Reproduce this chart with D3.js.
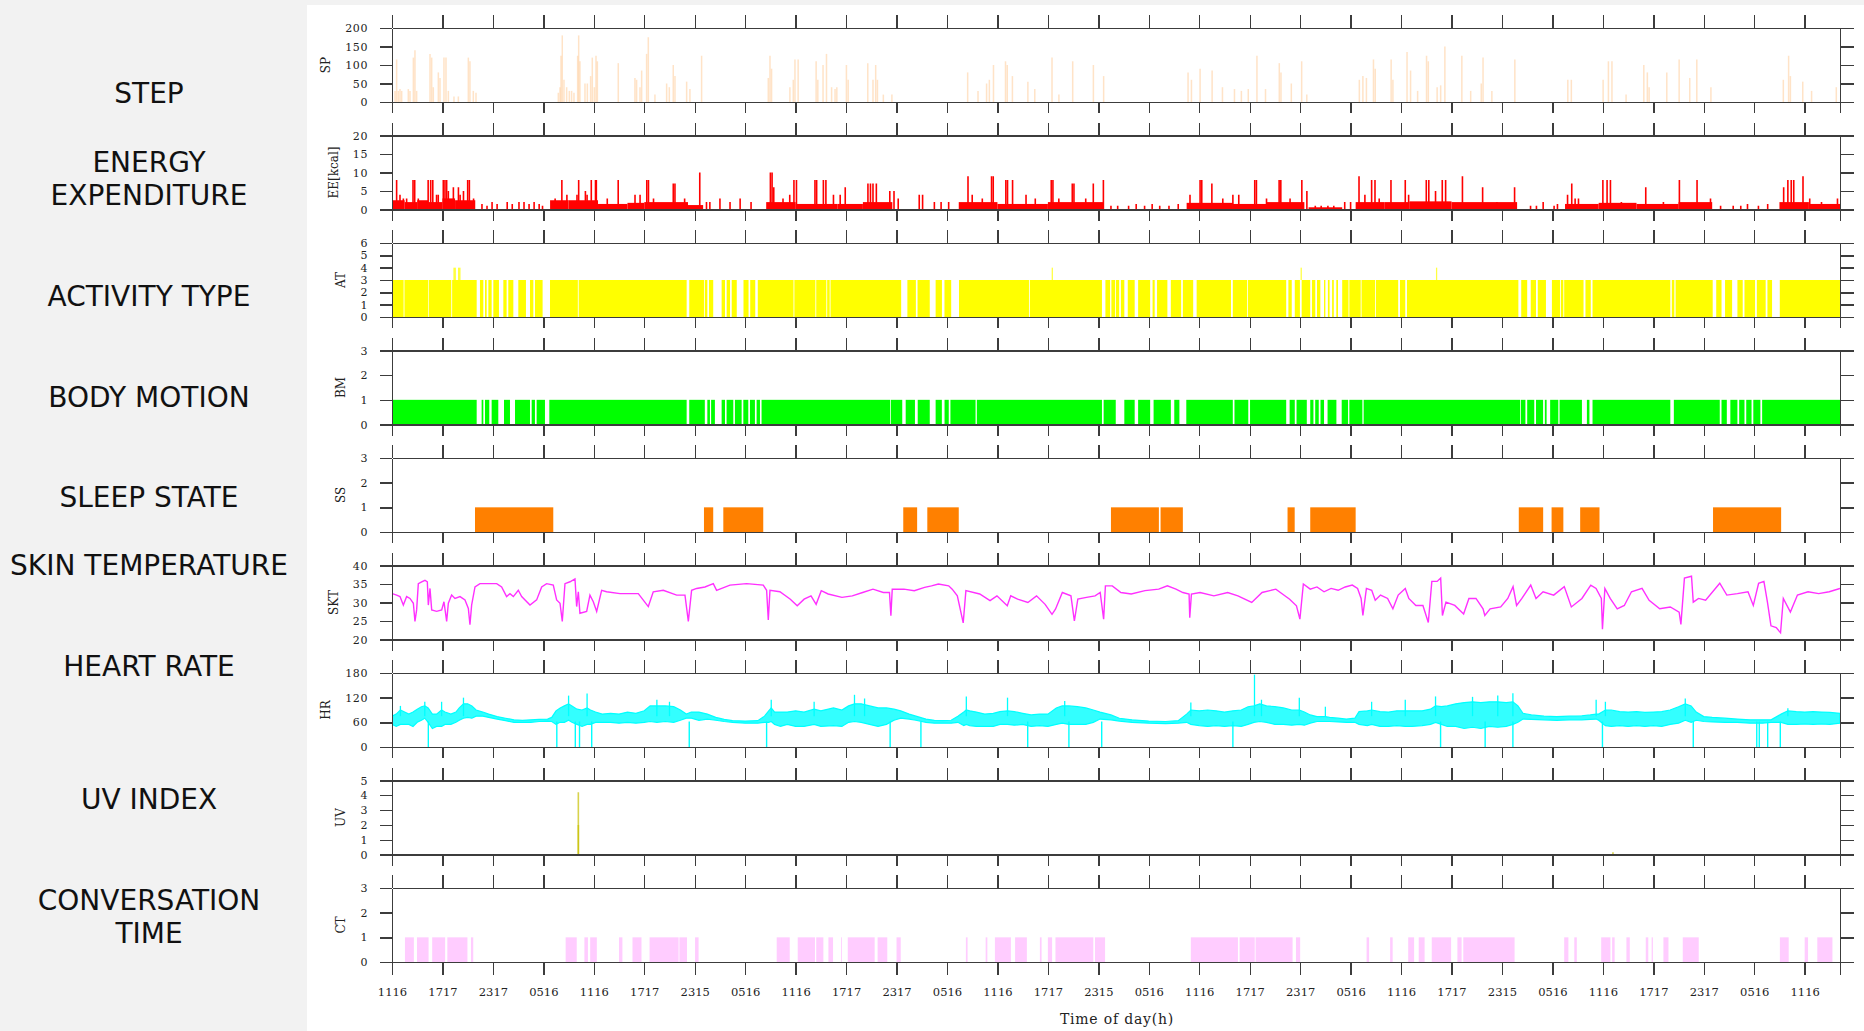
<!DOCTYPE html>
<html>
<head>
<meta charset="utf-8">
<script src="https://cdn.jsdelivr.net/npm/d3@7"></script>
<style>
  html, body { margin: 0; padding: 0; background: #f2f2f2; }
  svg { display: block; }
  .axis path, .axis line { stroke: #3c3c3c; stroke-width: 1.4; shape-rendering: crispEdges; }
  .axis text { font-family: "DejaVu Serif", serif; font-size: 11px; fill: #222; letter-spacing: 0.6px; }
  .xlabels text { font-size: 11.5px; letter-spacing: 0px; }
  .ylab { font-family: "DejaVu Serif", serif; font-size: 12px; fill: #222; }
  .rowtitle { font-family: "DejaVu Sans", Verdana, sans-serif; font-size: 28px; fill: #111; }
</style>
</head>
<body>
<svg id="chart" width="1864" height="1031"></svg>
<script>
// ---------------------------------------------------------------
// Multi-day wearable sensor log. Time axis in hours from 11:16 day 1.
// ---------------------------------------------------------------

// x-axis tick labels (one every 6 hours)
const timeTickLabels = ["1116","1717","2317","0516","1116","1717","2315","0516","1116","1717",
  "2317","0516","1116","1717","2315","0516","1116","1717","2317","0516","1116","1717","2315",
  "0516","1116","1717","2317","0516","1116"];
const timeEnd = 172.2;

// row captions on the left
const rowTitles = [["STEP"], ["ENERGY", "EXPENDITURE"], ["ACTIVITY TYPE"], ["BODY MOTION"],
  ["SLEEP STATE"], ["SKIN TEMPERATURE"], ["HEART RATE"], ["UV INDEX"], ["CONVERSATION", "TIME"]];

// y tick values per row
const spTicks = [0, 50, 100, 150, 200];
const eeTicks = [0, 5, 10, 15, 20];
const atTicks = [0, 1, 2, 3, 4, 5, 6];
const bmTicks = [0, 1, 2, 3];
const ssTicks = [0, 1, 2, 3];
const sktTicks = [20, 25, 30, 35, 40];
const hrTicks = [0, 60, 120, 180];
const uvTicks = [0, 1, 2, 3, 4, 5];
const ctTicks = [0, 1, 2, 3];

// steps per interval [hour, steps]
const steps = [[0.36,30],[0.55,115],[0.75,30],[0.95,35],[1.15,30],[1.94,35],[2.14,30],[2.54,120],[2.73,140],
  [2.93,30],[4.52,130],[4.72,120],[4.91,40],[5.51,80],[5.71,65],[6.18,120],[6.42,120],[6.7,30],[7.37,15],
  [7.89,15],[9.08,120],[9.27,110],[9.67,30],[9.99,25],
  [19.78,25],[19.98,40],[20.1,125],[20.25,180],[20.45,60],[20.77,40],[21.09,30],[21.36,30],[21.64,25],
  [22.08,125],[22.2,180],[22.35,110],[22.95,50],[23.23,50],[23.62,70],[23.82,120],[24.06,40],[24.26,125],
  [24.42,110],[26.91,105],[28.89,65],[29.09,60],[29.49,40],[29.69,85],[30.28,130],[30.48,175],[31.27,20],
  [32.66,50],[32.98,40],[33.45,100],[33.65,70],[35.04,55],[35.43,35],[36.82,125],
  [44.75,65],[44.95,125],[45.14,90],[47.32,40],[47.72,60],[47.92,115],[48.3,115],
  [50.44,110],[50.64,60],[51.26,100],[51.67,130],[52.28,40],[52.69,35],[52.9,40],[54.04,100],[54.25,60],
  [56.58,105],[57.2,60],[57.52,100],[57.73,60],[58.43,20],[59.45,20],
  [68.46,80],[69.69,30],[70.71,50],[71.04,60],[71.53,100],[72.96,110],[73.17,100],[73.78,70],[75.62,55],
  [76.44,35],[78.49,120],[79.31,20],[80.95,110],[83.41,100],[84.63,70],
  [94.67,80],[95.07,60],[96.1,90],[97.53,85],[98.76,40],[100.19,35],[101.01,30],[101.83,35],[102.86,125],
  [103.88,35],[105.52,105],[105.72,80],[106.95,50],[108.18,110],[108.79,20],
  [115.04,60],[115.46,70],[115.88,65],[116.72,115],[116.93,90],[118.82,115],[119.03,60],[120.71,135],
  [121.13,85],[121.97,30],[123.03,125],[123.24,110],[124.29,40],[124.71,45],[125.21,150],[127.23,125],
  [128.28,30],[129.54,50],[129.75,120],[130.8,30],[133.53,115],
  [139.83,60],[140.25,60],[144.03,60],[144.66,110],[145.08,110],[146.76,20],[148.87,100],[149.29,80],
  [149.5,40],[151.6,80],[153.07,115],[154.33,65],[155.17,115],[156.85,40],
  [165.46,60],[166.09,125],[166.3,70],[167.77,55],[168.82,30],[171.76,40]];

// energy expenditure: sustained level blocks [from, to, kcal] and peaks [hour, kcal]
const eeLevels = [[0,1.5,2.5],[1.5,3,2],[3,4.3,2.5],[4.3,6,2],[6,7.5,3],[7.5,9.9,2.5],
  [18.8,21,2.5],[21,24.5,2.5],[24.5,28,1.5],[28,30,1.8],[30,35.2,2],[35.2,37,1.2],
  [44.5,48,2],[48,53,1.5],[53,56,1.5],[56,59.5,2],
  [67.4,72,2],[72,78,1.5],[78,84.6,2],
  [94.5,100,1.8],[100,104,1.5],[104,108.5,2],[109,113,0.6],
  [114.6,118,2],[118,121,2],[121,126,2.2],[126,133.8,2],
  [139.5,143.5,1.5],[143.5,148,1.8],[148,153,1.5],[153,157,2],
  [165,168.5,2],[168.5,172.2,1.5]];
const eePeaks = [[0.55,8],[0.95,4],[1.35,3],[1.74,3],[2.5,8],[2.7,8],[3.13,3],[4.3,8],[4.6,8],[4.85,8],
  [5.3,4],[5.5,4],[6.1,8],[6.3,8],[6.5,8],[6.7,5],[7.3,6],[7.9,6],[8.1,4],[8.5,5],[9.0,8],[9.2,8],[9.7,3],
  [10.7,1.5],[11.3,1],[11.9,2],[12.5,1.5],[13.7,2],[14.3,1.5],[15.1,2],[15.7,2],[16.3,1.5],[16.9,2],
  [17.5,1.5],[17.9,1],
  [19.4,3],[20.2,8],[20.8,4],[22.0,4],[22.2,8],[23.0,5],[23.2,4],[23.7,8],[24.2,8],[24.3,8],[25.6,3],
  [26.9,8],[28.9,4],[29.5,4],[30.3,8],[30.5,8],[31.1,3],[33.45,7],[33.65,7],[34.8,3],[36.6,10],
  [37.4,2],[37.8,2],[39.0,3],[40.2,2],[41.4,3],[42.7,2],
  [45.0,10],[45.2,10],[45.4,6],[46.5,3],[47.3,4],[47.8,8],[48.1,8],
  [50.3,8],[50.5,8],[51.3,8],[51.6,8],[52.5,4],[53.3,4],[53.9,6],[56.6,7],[56.9,7],[57.2,7],[57.6,7],
  [59.2,5],[59.7,5],[60.2,3],[62.7,4],[63.1,4],[64.5,2],[65.3,2],[66.2,2],
  [68.5,9],[69.0,4],[70.2,3],[71.3,9],[71.5,9],[73.0,8],[73.2,8],[73.8,8],[75.4,4],[76.5,3],[78.4,8],
  [78.6,8],[79.3,3],[80.9,7],[81.1,7],[82.5,3],[83.4,7],[84.6,8],
  [85.5,1],[86.3,1],[87.6,1],[88.5,1.5],[89.5,1],[90.4,1.5],[91.3,1],[92.4,1],[93.5,1.5],
  [94.9,4],[96.1,8],[96.3,8],[97.5,7],[98.8,3],[100.0,4],[100.7,4],[102.6,8],[102.8,8],[104.0,3],
  [105.5,8],[105.7,8],[106.8,3],[108.2,8],[108.8,5],
  [109.8,1],[110.5,1],[111.3,1],[112.0,1],[113.3,2],[114.0,2],[115.0,9],[115.7,4],[116.5,8],[116.9,8],
  [117.4,3],[118.8,8],[120.5,8],[120.9,4],[123.0,8],[123.3,8],[124.1,5],[124.9,8],[125.3,8],[127.3,9],
  [129.7,6],[131.4,2],[133.5,6],
  [135.4,1],[136.1,1],[136.9,2],[138.2,1],[138.6,1.5],
  [139.8,4],[140.3,7],[140.7,3],[141.1,3],[144.0,8],[144.5,8],[144.9,8],[146.2,2],[149.1,6],[151.2,2],
  [153.1,8],[155.2,8],[156.8,3],
  [158.0,1],[159.5,1],[160.4,1],[161.2,1.5],[162.5,1],[163.6,1.5],
  [165.5,6],[166.0,8],[166.4,8],[166.7,8],[167.8,9],[168.6,3],[170,2],[171.9,3]];

// activity type: spans at level 3 [from, to], and short spans reaching level 4
const activitySpans = [[0,1.38],[1.48,4.28],[4.36,7.05],[7.15,10.07],
  [10.46,10.86],[11.06,11.26],[11.46,11.85],[12.05,12.72],[13.24,13.63],[13.83,14.43],[15.02,15.93],
  [16.41,16.81],[17.0,17.91],
  [18.79,22.1],[22.2,35.04],
  [35.35,37.1],[37.2,37.5],[37.7,38.2],[39.2,39.6],[39.8,40.2],[40.4,41.0],[41.8,42.4],[42.6,43.2],
  [43.5,47.75],[47.85,50.35],[50.45,51.65],[51.75,52.05],[52.15,60.55],
  [61.29,62.3],[62.5,63.95],[64.65,65.4],[65.7,66.5],
  [67.43,75.75],[75.85,84.43],
  [84.84,85.4],[85.55,86.0],[86.1,86.48],[86.68,87.09],[87.5,88.32],[88.73,90.16],[90.45,90.7],
  [90.98,92.21],[92.62,93.85],[94.05,95.28],[95.69,99.78],[99.99,101.7],[101.8,106.34],
  [106.6,107.0],[107.36,107.97],[108.18,109.2],[109.4,109.8],
  [110.0,110.4],[110.84,111.0],[111.3,111.5],[111.8,112.0],[112.3,112.5],
  [113.0,113.75],[113.85,115.2],[115.3,116.9],[117.0,119.66],
  [119.87,120.5],[120.7,133.95],
  [134.29,135.0],[135.42,136.05],[136.26,137.23],
  [137.94,138.9],[139.0,139.3],[139.4,141.7],
  [141.93,142.56],[142.77,152.02],[152.2,152.5],[152.65,157.06],
  [157.48,158.11],[158.53,159.37],[160.0,160.63],[160.84,162.1],[162.31,163.36],[163.57,164.12],
  [165.04,172.2]];
const activityHigh = [[7.3,7.6],[7.85,8.15],[78.45,78.6],[108.05,108.2],[124.15,124.3]];

// body motion spans at level 1 [from, to]
const motionSpans = [[0,10.07],
  [10.66,10.86],[11.06,11.57],[11.85,12.64],[13.32,14.03],[14.63,16.41],[16.61,17.0],[17.2,18.19],
  [18.71,35.04],
  [35.35,37.2],[37.5,37.81],[37.95,38.4],
  [39.2,39.6],[39.79,40.59],[40.78,41.58],[41.78,42.37],[42.57,43.16],[43.36,43.76],[43.95,59.24],
  [59.33,60.68],[61.09,62.19],[62.52,63.95],[64.65,65.39],[65.71,66.21],[66.41,69.4],[69.55,84.43],
  [84.63,86.07],[87.09,88.32],[88.73,90.16],[90.57,92.62],[93.03,93.64],[94.46,99.99],[100.19,101.83],
  [102.04,106.34],
  [106.75,107.36],[107.57,108.79],[109.2,109.58],[109.79,110.21],[110.42,110.84],[111.26,112.31],
  [112.94,113.7],[113.85,115.4],[115.55,134.16],
  [134.25,134.79],[135.0,135.84],[136.05,136.89],[137.1,137.31],
  [137.73,138.7],[138.85,141.51],
  [142.1,142.4],[142.77,152.02],[152.44,157.9],
  [158.11,158.74],[159.16,160.0],[160.21,160.84],[161.05,161.68],[161.89,162.73],[162.94,172.2]];

// sleep periods [from, to]
const sleepSpans = [[9.87,19.18],[37.1,38.2],[39.4,44.15],[60.8,62.45],[63.66,67.4],[85.5,91.2],
  [91.4,94.05],[106.5,107.35],[109.2,114.6],[134.0,136.9],[137.9,139.3],[141.3,143.6],[157.1,165.2]];

// skin temperature [hour, deg C]
const skinTemp = [[0.04,32.4],[0.55,32.0],[0.95,31.6],[1.35,29.3],[1.74,31.6],[2.14,31.1],[2.54,29.8],
  [2.73,24.9],[2.93,28.0],[3.13,35.1],[3.53,35.6],[3.92,36.0],[4.2,35.6],[4.32,29.3],[4.52,33.8],
  [4.72,28.0],[5.31,27.6],[5.91,28.0],[6.18,30.2],[6.5,24.9],[6.7,29.8],[7.09,32.0],[7.49,31.1],
  [8.09,31.6],[8.68,30.7],[9.08,28.4],[9.27,24.0],[9.47,29.3],[9.87,34.2],[10.46,35.1],[11.26,35.1],
  [12.45,35.1],[13.04,34.2],[13.63,31.6],[14.03,32.4],[14.43,31.6],[15.02,33.3],[15.42,31.6],
  [16.41,29.3],[17.2,30.7],[17.8,34.2],[18.39,35.1],[19.18,34.7],[19.58,30.7],[19.98,29.8],
  [20.25,24.9],[20.57,35.1],[21.17,35.6],[21.76,36.4],[21.96,28.9],[22.16,32.9],[22.35,27.1],
  [23.15,27.6],[23.54,32.0],[23.94,30.2],[24.34,27.6],[24.93,33.3],[25.52,32.9],[27.11,32.4],
  [28.3,32.4],[29.29,32.4],[30.48,28.9],[31.07,32.9],[32.26,33.3],[33.85,32.0],[34.84,32.0],
  [35.24,24.9],[35.63,33.3],[36.23,33.8],[37.22,34.2],[38.21,35.1],[38.6,33.3],[40.19,34.7],
  [42.17,35.1],[44.15,34.7],[44.55,33.3],[44.75,25.3],[44.95,33.3],[46.13,32.9],
  [47.37,30.9],[48.19,29.1],[49.01,30.9],[49.83,31.8],[50.44,29.5],[51.05,33.2],[51.87,32.3],
  [53.51,31.4],[54.74,31.8],[55.97,32.7],[57.2,33.6],[58.43,32.7],[59.16,32.7],[59.33,26.4],
  [59.49,33.6],[60.88,33.6],[62.11,33.2],[63.34,34.1],[64.16,34.5],[64.98,35.0],[66.2,34.5],
  [66.62,33.6],[67.23,31.8],[67.93,24.5],[68.25,33.2],[69.89,32.3],[71.12,30.5],[71.94,31.8],
  [73.17,29.1],[73.58,31.8],[74.4,30.9],[75.62,30.0],[76.65,31.8],[77.67,29.5],[78.49,26.8],
  [78.9,28.2],[79.72,32.7],[80.74,31.8],[81.15,25.0],[81.56,30.9],[82.59,31.4],[83.61,31.8],
  [84.22,32.7],[84.63,25.5],[84.84,34.5],[85.66,34.5],[86.68,32.7],[87.91,32.3],[89.55,33.2],
  [91.18,33.6],[92.21,34.5],[93.23,33.6],[94.05,32.7],[94.79,32.3],[94.87,25.9],[95.07,32.3],
  [96.1,32.7],[97.74,31.8],[99.38,32.7],[100.6,31.8],[102.24,30.0],[103.47,32.7],[105.11,33.6],
  [106.75,30.9],[107.56,29.1],[107.97,25.5],[108.38,35.0],[109.2,33.6],
  [110.0,34.2],[110.84,32.9],[111.68,33.8],[112.52,33.3],[113.36,34.2],[114.2,34.7],[114.83,33.8],
  [115.25,31.1],[115.46,26.5],[115.88,33.8],[116.51,33.3],[116.93,30.6],[117.56,32.0],[118.4,31.1],
  [119.03,28.3],[119.66,32.0],[120.5,33.8],[120.92,31.1],[121.76,29.2],[122.6,29.2],[123.24,24.6],
  [123.66,35.7],[124.29,35.7],[124.71,36.6],[124.92,26.5],[125.34,30.1],[126.39,29.2],[127.44,26.9],
  [128.07,31.1],[128.91,31.1],[129.75,28.3],[129.96,26.5],[130.59,28.3],[131.85,28.8],[132.69,31.1],
  [133.32,34.3],[133.74,29.2],[134.37,31.1],[135.42,34.7],[136.05,31.1],[136.89,32.9],[138.15,32.0],
  [139.41,34.3],[140.25,28.8],[141.51,31.1],[142.56,34.7],[143.19,33.8],[143.82,31.1],[143.95,22.8],
  [144.24,33.8],[144.87,31.1],[145.71,28.3],[146.55,29.2],[147.4,32.9],[148.66,33.8],[149.5,30.6],
  [150.76,28.3],[152.02,28.8],[153.07,27.4],[153.28,24.1],[153.7,36.6],[154.54,37.1],[154.75,30.1],
  [155.38,31.1],[156.22,30.6],[157.9,35.2],[158.74,32.0],[160.0,32.4],[161.26,32.9],[161.89,29.2],
  [162.52,35.2],[163.15,35.7],[163.57,30.1],[163.99,23.7],[164.62,23.2],[165.13,21.8],[165.46,31.1],
  [166.3,27.4],[167.14,32.0],[168.4,32.9],[169.66,32.4],[170.92,32.9],[172.2,33.8]];

// heart rate spread per period [hour, low bpm, high bpm]
const heartRate = [[0,55,75],[0.5,50,80],[1.0,55,90],[1.5,55,85],[2.0,55,80],[2.5,50,85],[3.0,60,92],
  [3.5,65,98],[3.9,70,100],[4.3,60,95],[4.8,45,80],[5.3,50,80],[5.9,50,90],[6.3,55,85],[7.0,55,80],
  [7.6,60,85],[8.0,65,95],[8.5,70,105],[9.0,72,105],[9.5,70,100],[10.0,75,90],[10.8,75,85],
  [11.5,72,80],[12.5,68,74],[13.5,64,70],[14.5,60,66],[15.5,60,65],[16.5,60,66],[17.5,62,67],
  [18.5,63,68],[19.0,62,72],[19.5,55,88],[20.0,60,95],[20.5,60,100],[21.0,65,105],[21.4,60,100],
  [22.0,55,92],[22.6,50,90],[23.2,55,95],[23.6,55,90],[24.2,60,85],[25,60,80],[26,60,82],[27,58,80],
  [28,60,85],[29,58,82],[30,60,88],[30.7,62,100],[31.5,60,100],[32.5,62,100],[33.5,60,98],
  [34.3,65,90],[35.0,70,80],[35.6,70,85],[36.5,65,85],[37.5,68,80],[38.5,65,72],[39.5,62,67],
  [40.5,60,64],[42,58,63],[43.5,58,64],[44.3,60,75],[44.8,60,88],[45.1,62,95],[45.5,55,85],
  [46.2,50,85],[47,55,85],
  [48,50,88],[49,50,85],[50.2,55,92],[51,50,88],[52.5,52,95],[53.5,50,90],[54.3,60,100],[55,62,105],
  [55.8,60,105],[56.8,55,100],[57.8,50,95],[58.8,55,95],[59.7,65,92],[60.5,70,88],[61.5,68,80],
  [62.3,65,75],[63.5,60,68],[64.5,58,65],[65.5,58,64],[66.5,58,65],[67.3,60,75],[68,52,85],
  [68.3,55,90],[68.7,52,88],[69.5,50,85],[70.5,50,80],[71.5,50,82],[72.3,55,86],[73.2,55,88],
  [74,53,86],[75,55,82],[76,50,78],[77,52,80],[78,50,80],[79,55,95],[79.7,58,100],[80.5,55,100],
  [81.5,55,98],[82.5,55,95],[83.4,60,90],[84.2,68,85],[85.5,66,78],[86.5,63,70],[88,60,66],
  [90,58,63],[92,57,62],[93.5,58,64],[94.5,60,80],[95,55,90],[96,52,88],[97,50,90],[98,52,88],
  [99,50,85],[100,52,88],[101,50,90],[101.8,55,98],[102.5,60,100],[103.2,62,105],[104,60,100],
  [105,55,98],[106,55,95],[107,53,90],[107.9,55,90],[108.5,53,85],[109.2,58,78],
  [110,62,74],[111,62,74],[111.5,62,72],[112.5,61,70],[113.5,60,68],[114.5,60,70],[115,55,86],
  [116,52,88],[116.5,55,90],[117.5,50,86],[118.5,50,85],[119.5,52,88],[120.5,50,88],[121.3,50,88],
  [122.5,52,88],[123.5,55,92],[124.1,60,100],[124.8,55,98],[125.5,50,100],[126.5,50,105],
  [127.5,45,108],[128.5,48,110],[129.5,45,108],[130.5,50,110],[131.5,48,110],[132.5,50,108],
  [133.3,55,110],[133.9,60,100],[134.5,68,82],[135.5,67,78],[137,66,75],[138.5,65,74],[140,66,75],
  [141.5,66,76],[142.5,67,78],[143.2,68,80],[143.5,65,80],[144.3,52,90],[145,50,90],[146,52,86],
  [147,50,85],[148,52,86],[149,50,84],[150,52,85],[151,50,86],[152,55,90],[153,58,98],[153.8,65,105],
  [154.5,60,100],[155.1,65,85],[156,62,74],[157,61,72],[158.5,60,70],[160,60,68],[161.5,58,66],
  [162,58,66],[163,58,66],[164,60,66],[165.2,60,80],[166,55,88],[167,55,86],[168,56,85],[169,55,86],
  [170,56,85],[171,55,84],[172.2,58,82]];
// heart rate signal drop-outs (hour) and isolated high readings [hour, bpm]
const hrDropouts = [4.32,19.6,21.8,22.3,23.75,35.35,44.55,59.24,62.9,75.6,80.5,84.4,100.0,124.7,
  130.0,133.3,143.95,154.75,162.3,162.6,163.6,165.1];
const hrSpikes = [[1.0,100],[3.9,110],[5.9,110],[8.5,120],[21.0,125],[23.2,130],[31.5,115],[33.0,110],
  [45.1,115],[50.2,110],[55,127],[56.2,118],[68.3,123],[73.2,120],[80.0,112],[95,108],[102.57,176],
  [103.4,115],[107.9,120],[111,98],[116.5,110],[120.5,115],[124.1,123],[128.5,122],[131.5,125],
  [133.3,131],[143.2,115],[144.3,110],[153.8,118],[166,94]];

// UV index readings [hour, index]
const uvReadings = [[22.16,4.2],[22.16,2.0],[145.2,0.15]];

// conversation detected [from, to]
const talkSpans = [[1.54,2.6],[2.97,4.35],[4.78,6.32],[6.58,8.97],[9.39,9.66],
  [20.65,21.97],[22.88,23.3],[23.57,24.36],[27.0,27.4],[28.6,29.67],[30.63,34.08],[34.18,35.08],
  [36.04,36.46],
  [45.75,47.3],[48.25,50.3],[50.45,51.3],[51.9,52.45],[53.4,53.5],[54.2,57.4],[57.75,58.9],[60.0,60.5],
  [68.25,68.45],[70.6,70.8],[71.7,73.6],[74.1,75.5],[77.05,77.25],[78.0,78.5],[78.9,83.4],[83.6,84.8],
  [95.0,100.6],[100.8,102.6],[102.7,107.1],[107.5,108.0],
  [115.9,116.2],[118.7,119.0],[120.85,121.55],[122.1,122.8],[123.65,125.95],[126.7,127.2],[127.4,133.5],
  [139.4,139.9],[140.6,140.9],[143.8,144.9],[145.1,145.4],[146.8,147.2],[149.1,149.4],[149.8,149.95],
  [151.2,151.8],[153.5,155.4],
  [165.05,166.1],[168.0,168.4],[169.5,171.3]];

// ---------------------------------------------------------------
// Layout and drawing
// ---------------------------------------------------------------
const W = 1864, H = 1031;
const plotL = 392, plotR = 1840;
const firstTop = 28, rowStep = 107.5, rowH = 74;

const svg = d3.select("#chart");
svg.append("rect").attr("width", W).attr("height", H).attr("fill", "#f2f2f2");
svg.append("rect").attr("x", 307).attr("y", 5).attr("width", W - 307).attr("height", H - 5).attr("fill", "#ffffff");

// left captions
const titleY = [93, 162, 296, 397, 497, 565, 666, 799, 900];
rowTitles.forEach((lines, i) => {
  lines.forEach((s, j) => {
    svg.append("text").attr("class", "rowtitle")
      .attr("x", 149).attr("y", titleY[i] + j * 33)
      .attr("text-anchor", "middle").attr("dominant-baseline", "central")
      .text(s);
  });
});

const x = d3.scaleLinear().domain([0, timeEnd]).range([plotL, plotR]);
const hourTicks = d3.range(0, timeTickLabels.length * 6, 6);

const rows = [
  { label: "SP", domain: [0, 200], ticks: spTicks },
  { label: "EE[kcal]", domain: [0, 20], ticks: eeTicks },
  { label: "AT", domain: [0, 6], ticks: atTicks },
  { label: "BM", domain: [0, 3], ticks: bmTicks },
  { label: "SS", domain: [0, 3], ticks: ssTicks },
  { label: "SKT", domain: [20, 40], ticks: sktTicks },
  { label: "HR", domain: [0, 180], ticks: hrTicks },
  { label: "UV", domain: [0, 5], ticks: uvTicks },
  { label: "CT", domain: [0, 3], ticks: ctTicks }
];

function spanRects(g, y, spans, level, color) {
  g.selectAll(null).data(spans).join("rect")
    .attr("x", d => x(d[0]))
    .attr("width", d => Math.max(0.8, x(d[1]) - x(d[0])))
    .attr("y", y(level))
    .attr("height", y(y.domain()[0]) - y(level))
    .attr("fill", color);
}
function bars(g, y, pts, color, width, opacity) {
  g.selectAll(null).data(pts).join("line")
    .attr("x1", d => x(d[0])).attr("x2", d => x(d[0]))
    .attr("y1", y(y.domain()[0])).attr("y2", d => y(d[1]))
    .attr("stroke", color).attr("stroke-width", width).attr("stroke-opacity", opacity);
}

rows.forEach((r, i) => {
  const top = firstTop + i * rowStep, bot = top + rowH;
  const y = d3.scaleLinear().domain(r.domain).range([bot, top]);
  const clipId = "clip" + i;
  svg.append("clipPath").attr("id", clipId).append("rect")
    .attr("x", plotL).attr("y", top).attr("width", plotR - plotL).attr("height", rowH);
  const g = svg.append("g").attr("clip-path", `url(#${clipId})`);

  if (i === 0) {
    bars(g, y, steps, "#ffc890", 1.5, 0.5);
  } else if (i === 1) {
    g.selectAll(null).data(eeLevels).join("rect")
      .attr("x", d => x(d[0])).attr("width", d => x(d[1]) - x(d[0]))
      .attr("y", d => y(d[2])).attr("height", d => y(0) - y(d[2]))
      .attr("fill", "#ff0000");
    bars(g, y, eePeaks, "#ff0000", 1.6, 1);
  } else if (i === 2) {
    spanRects(g, y, activitySpans, 3, "#ffff00");
    g.selectAll(null).data(activityHigh).join("rect")
      .attr("x", d => x(d[0])).attr("width", d => Math.max(1, x(d[1]) - x(d[0])))
      .attr("y", y(4)).attr("height", y(3) - y(4)).attr("fill", "#ffff40");
  } else if (i === 3) {
    spanRects(g, y, motionSpans, 1, "#00ff00");
  } else if (i === 4) {
    spanRects(g, y, sleepSpans, 1, "#ff8000");
  } else if (i === 5) {
    g.append("path").datum(skinTemp)
      .attr("d", d3.line().x(d => x(d[0])).y(d => y(d[1])))
      .attr("fill", "none").attr("stroke", "#ff30ff").attr("stroke-width", 1.4);
  } else if (i === 6) {
    g.append("path").datum(heartRate)
      .attr("d", d3.area().x(d => x(d[0])).y0(d => y(d[1])).y1(d => y(d[2])))
      .attr("fill", "#00ffff").attr("fill-opacity", 0.8)
      .attr("stroke", "#00ffff").attr("stroke-width", 1.2);
    g.selectAll(null).data(hrDropouts).join("line")
      .attr("x1", d => x(d)).attr("x2", d => x(d))
      .attr("y1", y(0)).attr("y2", y(62))
      .attr("stroke", "#00ffff").attr("stroke-width", 1.4);
    g.selectAll(null).data(hrSpikes).join("line")
      .attr("x1", d => x(d[0])).attr("x2", d => x(d[0]))
      .attr("y1", y(75)).attr("y2", d => y(d[1]))
      .attr("stroke", "#00ffff").attr("stroke-width", 1.3);
  } else if (i === 7) {
    bars(g, y, uvReadings, "#c8c000", 1.6, 0.7);
  } else if (i === 8) {
    spanRects(g, y, talkSpans, 1, "#ffccff");
  }

  // axes
  const ax = svg.append("g").attr("class", "axis");
  const leftAxis = ax.append("g").attr("transform", `translate(${plotL},0)`)
    .call(d3.axisLeft(y).tickValues(r.ticks).tickSize(12).tickSizeOuter(0).tickPadding(12)
      .tickFormat(d3.format("d")));
  ax.append("g").attr("transform", `translate(${plotR},0)`)
    .call(d3.axisRight(y).tickValues(r.ticks).tickSize(14).tickSizeOuter(0).tickFormat(""));
  ax.append("g").attr("transform", `translate(0,${top})`)
    .call(d3.axisTop(x).tickValues(hourTicks).tickSize(13).tickSizeOuter(0).tickFormat(""));
  const bottomAxis = d3.axisBottom(x).tickValues(hourTicks).tickSizeOuter(0);
  if (i === rows.length - 1) {
    bottomAxis.tickSize(13).tickPadding(13).tickFormat((d, k) => timeTickLabels[k]);
  } else {
    bottomAxis.tickSize(11).tickFormat("");
  }
  const bottomG = ax.append("g").attr("transform", `translate(0,${bot})`).call(bottomAxis);
  if (i === rows.length - 1) bottomG.classed("xlabels", true);
  ax.selectAll("text").attr("font-family", null).attr("font-size", null);

  // rotated row label, placed left of the widest tick label
  let minX = Infinity;
  leftAxis.selectAll("text").each(function () {
    const b = this.getBBox();
    minX = Math.min(minX, plotL - 24 - b.width);
  });
  svg.append("text").attr("class", "ylab")
    .attr("transform", `translate(${minX - 19},${(top + bot) / 2}) rotate(-90)`)
    .attr("text-anchor", "middle").attr("dominant-baseline", "central")
    .text(r.label);
});

svg.append("text")
  .attr("x", 1117).attr("y", 1019)
  .attr("text-anchor", "middle").attr("dominant-baseline", "central")
  .attr("font-family", "DejaVu Serif, serif").attr("font-size", 14).attr("fill", "#222")
  .style("letter-spacing", "0.8px")
  .text("Time of day(h)");
</script>
</body>
</html>
